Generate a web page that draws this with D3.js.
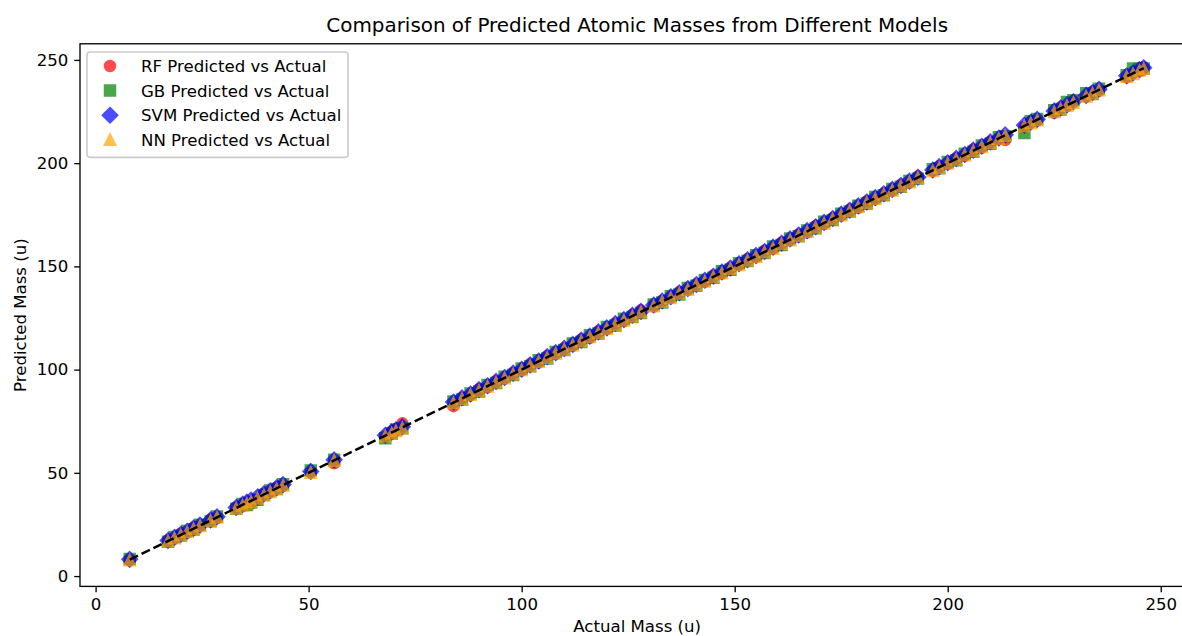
<!DOCTYPE html>
<html>
<head>
<meta charset="utf-8">
<script src="https://cdn.jsdelivr.net/npm/d3@7"></script>
<style>
  body { margin: 0; background: #fff; }
  text { font-family: "DejaVu Sans", sans-serif; fill: #000; }
</style>
</head>
<body>
<div id="chart"></div>
<script>
// actual atomic masses of the test set (u)
const actual = [
  8.0, 17.0, 18.5, 20.0, 21.5, 23.0, 24.5, 27.0, 28.5,
  33.0, 34.5, 35.5, 36.5, 38.0, 39.5, 41.0, 42.5, 44.0,
  50.5, 56.0,
  68.0, 69.5, 70.5, 72.0,
  84, 86, 88, 90, 92, 94, 96, 98, 100, 102, 104, 106, 108, 110, 112, 114, 116, 118, 120, 122, 124, 126, 128,
  131, 133, 135, 137, 139, 141, 143, 145, 147, 149, 151, 153, 155, 157, 159, 161, 163, 165, 167, 169, 171, 173, 175, 177, 179, 181, 183, 185, 187, 189, 191, 193,
  196.5, 198, 200, 202, 204, 206, 208, 210, 212, 213.5,
  218.0, 219.5, 221.0,
  225.0, 226.5, 228.0, 229.5,
  232.5, 234.0, 235.5,
  242.0, 243.5, 245.0, 246.0
];

const rfPred = [
  7.6, 17.4, 18.2, 20.5, 21.1, 23.6, 24.2, 27.5, 28.1,
  33.4, 33.8, 34.6, 35.2, 37.1, 39.9, 40.6, 43.0, 43.7,
  50.1, 54.6,
  67.6, 70.2, 71.3, 74.0,
  82.3, 86.4, 87.5, 90.6, 91.4, 94.5, 95.6, 98.4, 99.5, 102.6, 103.4, 106.5, 107.6, 110.3, 111.5, 114.6, 115.4, 118.5, 119.6, 122.4, 123.5, 126.6, 128.7,
  130.5, 133.4, 134.6, 137.5, 138.6, 141.4, 142.5, 145.6, 146.5, 149.4, 150.6, 153.5, 154.4, 157.6, 158.5, 161.4, 162.6, 165.5, 166.4, 169.6, 170.5, 173.4, 174.6, 177.5, 178.4, 181.6, 182.5, 185.4, 186.6, 189.5, 190.4, 193.6,
  196.1, 198.5, 199.6, 202.4, 203.5, 206.6, 207.5, 210.4, 211.6, 211.2,
  217.5, 220.1, 220.6,
  224.4, 227.0, 227.5, 230.1,
  232.1, 234.6, 235.0,
  241.5, 244.0, 244.6, 246.4
];

const gbPred = [
  8.3, 16.6, 18.9, 19.6, 21.9, 22.6, 24.9, 26.6, 28.9,
  32.6, 34.9, 34.4, 35.6, 36.9, 39.3, 41.4, 42.2, 44.5,
  51.2, 56.4,
  66.8, 69.1, 71.0, 71.6,
  84.6, 85.5, 88.5, 89.4, 92.6, 93.5, 96.6, 97.4, 100.5, 101.6, 104.5, 105.4, 108.6, 109.5, 112.6, 113.4, 116.6, 117.5, 120.6, 121.4, 124.6, 125.5, 127.4,
  131.5, 132.5, 135.6, 136.4, 139.5, 140.6, 143.4, 144.5, 147.6, 148.4, 151.5, 152.6, 155.4, 156.5, 159.6, 160.4, 163.5, 164.6, 167.4, 168.5, 171.6, 172.4, 175.5, 176.6, 179.4, 180.5, 183.6, 184.4, 187.5, 188.6, 191.4, 192.5,
  197.0, 197.5, 200.6, 201.4, 204.5, 205.5, 208.6, 209.4, 212.5, 213.0,
  214.6, 220.3, 221.4,
  225.6, 226.0, 229.6, 230.5,
  233.9, 233.5, 236.0,
  242.6, 245.9, 245.6, 245.8
];

const svmPred = [
  8.1, 17.2, 18.7, 20.2, 21.7, 23.2, 24.7, 27.2, 28.7,
  33.2, 34.8, 35.8, 36.8, 38.3, 39.8, 41.3, 42.8, 44.3,
  50.7, 56.3,
  68.2, 69.7, 70.8, 72.3,
  84.3, 86.3, 88.2, 90.3, 92.2, 94.3, 96.2, 98.3, 100.2, 102.3, 104.2, 106.3, 108.2, 110.3, 112.2, 114.3, 116.2, 118.3, 120.2, 122.3, 124.2, 126.3, 128.2,
  131.3, 133.2, 135.3, 137.2, 139.3, 141.2, 143.3, 145.2, 147.3, 149.2, 151.3, 153.2, 155.3, 157.2, 159.3, 161.2, 163.3, 165.2, 167.3, 169.2, 171.3, 173.2, 175.3, 177.2, 179.3, 181.2, 183.3, 185.2, 187.3, 189.2, 191.3, 193.2,
  196.7, 198.3, 200.2, 202.3, 204.2, 206.3, 208.2, 210.3, 212.2, 213.7,
  218.4, 219.8, 221.2,
  225.3, 226.7, 228.3, 229.7,
  232.8, 234.2, 235.8,
  242.3, 243.7, 245.3, 246.2
];

const nnPred = [
  7.7, 16.8, 18.3, 19.8, 21.3, 22.8, 24.3, 26.8, 28.3,
  32.7, 34.2, 35.1, 36.0, 37.6, 39.1, 40.7, 42.2, 43.8,
  50.0, 55.8,
  67.7, 69.2, 70.3, 71.6,
  83.8, 85.7, 87.8, 89.7, 91.8, 93.7, 95.8, 97.7, 99.8, 101.7, 103.8, 105.7, 107.8, 109.7, 111.8, 113.7, 115.8, 117.7, 119.8, 121.7, 123.8, 125.7, 127.8,
  130.7, 132.8, 134.7, 136.8, 138.7, 140.8, 142.7, 144.8, 146.7, 148.8, 150.7, 152.8, 154.7, 156.8, 158.7, 160.8, 162.7, 164.8, 166.7, 168.8, 170.7, 172.8, 174.7, 176.8, 178.7, 180.8, 182.7, 184.8, 186.7, 188.8, 190.7, 192.8,
  196.2, 197.7, 199.8, 201.7, 203.8, 205.7, 207.8, 209.7, 211.8, 213.2,
  217.8, 219.3, 220.7,
  224.8, 226.2, 227.8, 229.2,
  232.3, 233.7, 235.3,
  241.8, 243.2, 244.8, 245.7
];

const models = ['RF', 'GB', 'SVM', 'NN'];
const xTicks = [0, 50, 100, 150, 200, 250];
const yTicks = [0, 50, 100, 150, 200, 250];

const width = 1182;
const height = 636;
const margin = { top: 43.8, right: -12.4, bottom: 49.6, left: 80 };
const pt = 1.66; // px per point at this figure's dpi

// matplotlib-like marker shapes (size = marker width in px)
const mCircle = { draw(ctx, s) { const r = s / 2; ctx.moveTo(r, 0); ctx.arc(0, 0, r, 0, 2 * Math.PI); } };
const mSquare = { draw(ctx, s) { const h = s / 2; ctx.rect(-h, -h, s, s); } };
const mDiamond = { draw(ctx, s) { const h = s / Math.SQRT2; ctx.moveTo(0, -h); ctx.lineTo(h, 0); ctx.lineTo(0, h); ctx.lineTo(-h, 0); ctx.closePath(); } };
const mTriangle = { draw(ctx, s) { const h = s / 2; ctx.moveTo(0, -h); ctx.lineTo(h, h); ctx.lineTo(-h, h); ctx.closePath(); } };

const series = [
  { name: models[0], pred: rfPred, color: 'red', shape: mCircle },
  { name: models[1], pred: gbPred, color: 'green', shape: mSquare },
  { name: models[2], pred: svmPred, color: 'blue', shape: mDiamond },
  { name: models[3], pred: nnPred, color: 'orange', shape: mTriangle },
];

const svg = d3.select('#chart').append('svg')
  .attr('width', width)
  .attr('height', height)
  .style('display', 'block');

const x = d3.scaleLinear()
  .domain([-3.66, 257.9])
  .range([margin.left, width - margin.right]);

const y = d3.scaleLinear()
  .domain([-5.0, 257.8])
  .range([height - margin.bottom, margin.top]);

const markerSize = 6 * pt;
const symbol = shape => d3.symbol().type(shape).size(markerSize)();

function xAxis(g) {
  g
    .attr('transform', `translate(0,${height - margin.bottom})`)
    .call(d3.axisBottom(x).tickValues(xTicks).tickFormat(d3.format('d'))
      .tickSize(3.5 * pt).tickPadding(3.5 * pt).tickSizeOuter(0))
    .call(g => g.select('.domain').remove())
    .call(g => g.selectAll('line').attr('stroke', '#000').attr('stroke-width', 0.8 * pt))
    .call(g => g.selectAll('text').attr('font-size', 10 * pt).attr('font-family', 'DejaVu Sans').attr('fill', '#000'));
}

function yAxis(g) {
  g
    .attr('transform', `translate(${margin.left},0)`)
    .call(d3.axisLeft(y).tickValues(yTicks).tickFormat(d3.format('d'))
      .tickSize(3.5 * pt).tickPadding(3.5 * pt).tickSizeOuter(0))
    .call(g => g.select('.domain').remove())
    .call(g => g.selectAll('line').attr('stroke', '#000').attr('stroke-width', 0.8 * pt))
    .call(g => g.selectAll('text').attr('font-size', 10 * pt).attr('font-family', 'DejaVu Sans').attr('fill', '#000'));
}

svg.append('defs').append('clipPath').attr('id', 'plot-clip')
  .append('rect')
  .attr('x', margin.left).attr('y', margin.top)
  .attr('width', width - margin.right - margin.left)
  .attr('height', height - margin.bottom - margin.top);

const plot = svg.append('g').attr('clip-path', 'url(#plot-clip)');

series.forEach(s => {
  plot.append('g')
    .attr('class', 'points-' + s.name)
    .selectAll('path')
    .data(actual.map((a, i) => ({ a, p: s.pred[i] })))
    .enter().append('path')
    .attr('transform', d => `translate(${x(d.a)},${y(d.p)})`)
    .attr('d', symbol(s.shape))
    .attr('fill', s.color)
    .attr('stroke', s.color)
    .attr('stroke-width', 1.5 * pt)
    .attr('opacity', 0.7);
});

// perfect prediction line
const ext = d3.extent(actual);
plot.append('line')
  .attr('x1', x(ext[0])).attr('y1', y(ext[0]))
  .attr('x2', x(ext[1])).attr('y2', y(ext[1]))
  .attr('stroke', '#000')
  .attr('stroke-width', 1.5 * pt)
  .attr('stroke-dasharray', `${3.7 * 1.5 * pt},${1.6 * 1.5 * pt}`);

svg.append('g').attr('class', 'axis-x').call(xAxis);
svg.append('g').attr('class', 'axis-y').call(yAxis);

// frame
svg.append('rect')
  .attr('x', margin.left).attr('y', margin.top)
  .attr('width', width - margin.right - margin.left)
  .attr('height', height - margin.bottom - margin.top)
  .attr('fill', 'none')
  .attr('stroke', '#000')
  .attr('stroke-width', 0.8 * pt);

svg.append('text')
  .attr('x', (margin.left + width - margin.right) / 2)
  .attr('y', 32)
  .attr('text-anchor', 'middle')
  .attr('font-size', 12 * pt)
  .text('Comparison of Predicted Atomic Masses from Different Models');

svg.append('text')
  .attr('x', (margin.left + width - margin.right) / 2)
  .attr('y', 632)
  .attr('text-anchor', 'middle')
  .attr('font-size', 10 * pt)
  .text('Actual Mass (u)');

svg.append('text')
  .attr('transform', `translate(25.5,${(margin.top + height - margin.bottom) / 2}) rotate(-90)`)
  .attr('text-anchor', 'middle')
  .attr('font-size', 10 * pt)
  .text('Predicted Mass (u)');

// legend
const fs = 10 * pt;
const legend = svg.append('g').attr('class', 'legend');
const box = legend.append('rect')
  .attr('x', 87).attr('y', 52)
  .attr('rx', 3).attr('ry', 3)
  .attr('fill', '#fff').attr('fill-opacity', 0.8)
  .attr('stroke', '#cccccc').attr('stroke-width', 1 * pt);

const rowStep = 24.6;
const rows = legend.selectAll('g.row')
  .data(series)
  .enter().append('g')
  .attr('class', 'row')
  .attr('transform', (d, i) => `translate(0,${66 + i * rowStep})`);

rows.append('path')
  .attr('transform', 'translate(110,0)')
  .attr('d', d => symbol(d.shape))
  .attr('fill', d => d.color)
  .attr('stroke', d => d.color)
  .attr('stroke-width', 1.5 * pt)
  .attr('opacity', 0.7);

rows.append('text')
  .attr('x', 141)
  .attr('dy', '0.36em')
  .attr('font-size', fs)
  .text(d => `${d.name} Predicted vs Actual`);

const textRight = d3.max(rows.selectAll('text').nodes(), n => n.getBBox().x + n.getBBox().width);
box.attr('width', textRight + 0.4 * fs - 87)
  .attr('height', 66 + 3 * rowStep + 17.5 - 52);
</script>
</body>
</html>
